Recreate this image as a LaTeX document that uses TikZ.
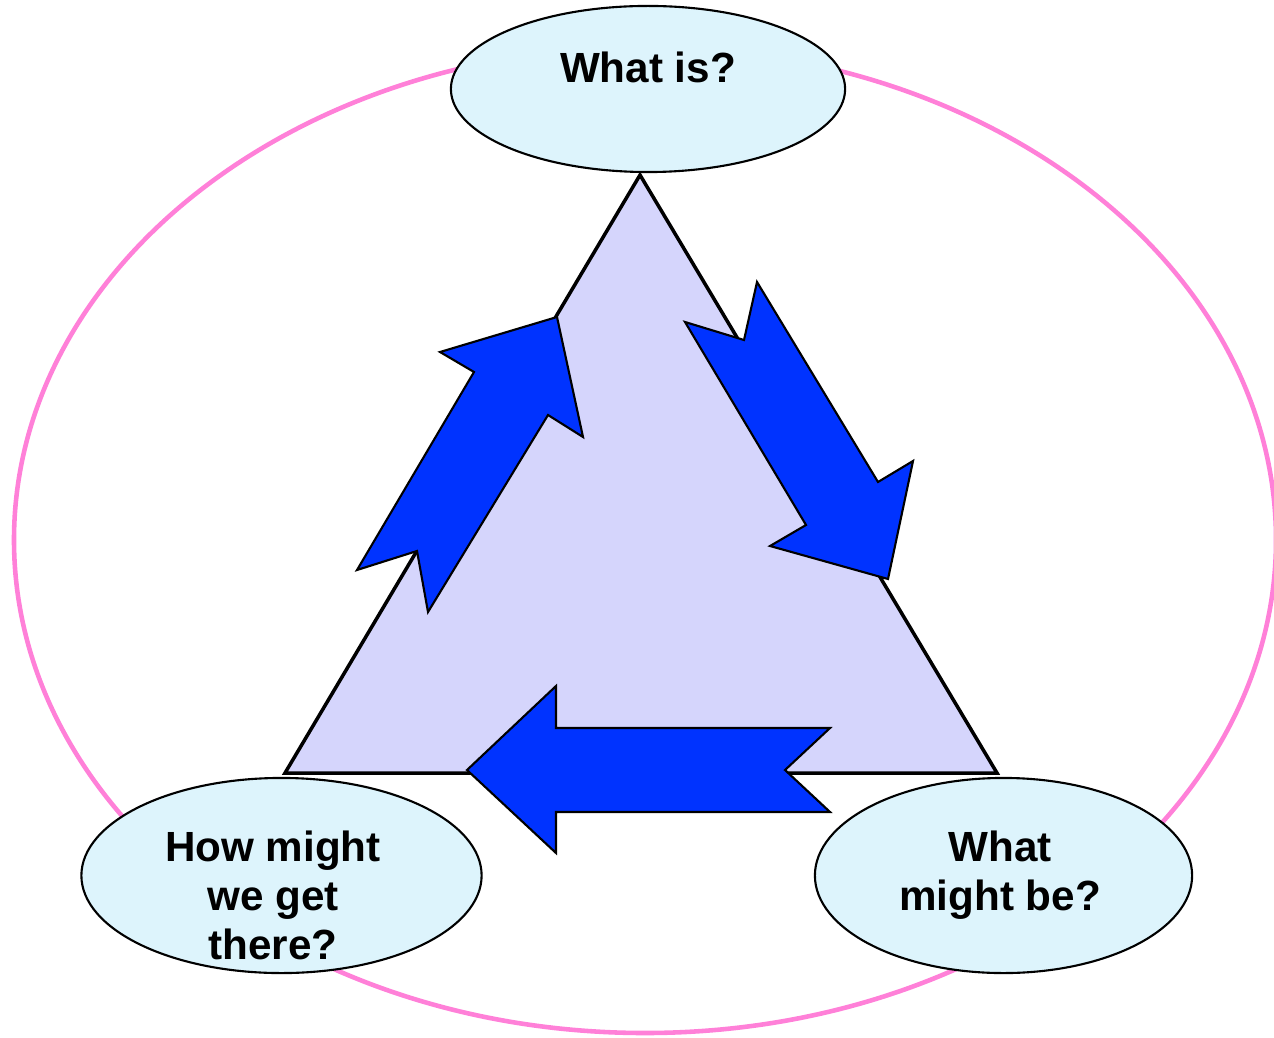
\documentclass[tikz,border=0pt]{standalone}
\usepackage{fontspec}
\setmainfont{Liberation Sans}
\usetikzlibrary{shapes.geometric, positioning}
\definecolor{ringpink}{HTML}{FF80D8}
\definecolor{bubble}{HTML}{DDF4FC}
\definecolor{lavender}{HTML}{D5D5FC}
\definecolor{cycleblue}{HTML}{0033FF}

\begin{document}
\begin{tikzpicture}[x=0.01cm, y=-0.01cm,
		question/.style={ellipse, draw, line width=0.6pt, fill=bubble, inner sep=0pt},
		qtext/.style={inner sep=0pt, align=center, font=\fontsize{12}{14}\selectfont\bfseries},
		turn/.style={draw, line width=0.6pt, fill=cycleblue, line join=miter}]
	\useasboundingbox (0,0) rectangle (1274,1037);
	\draw[ringpink, line width=1.3pt] (645,540) ellipse [x radius=631, y radius=493];
	% triangle
	\coordinate (apex) at (640,175);
	\coordinate (right) at (997,773);
	\coordinate (left) at (285,773);
	\draw[fill=lavender, line width=1pt] (apex) -- (right) -- (left) -- cycle;
	% arrows round the cycle
	\draw[turn] (557,317) -- (583,437) -- (548,415) -- (428,612) -- (417,551)
		-- (357,570) -- (474,372) -- (440,352) -- cycle;
	\draw[turn] (685,322) -- (744,340) -- (757,282) -- (878,482) -- (913,461)
		-- (888,579) -- (770,546) -- (806,525) -- cycle;
	\draw[turn] (467,770) -- (556,686) -- (556,728) -- (830,728) -- (785,770)
		-- (830,812) -- (556,812) -- (556,853) -- cycle;
	% the three questions
	\node[question, minimum width=3.94cm, minimum height=1.66cm] (is) at (648,89) {};
	\node[question, minimum width=4cm, minimum height=1.95cm] (how) at (281.5,875.5) {};
	\node[question, minimum width=3.77cm, minimum height=1.95cm] (be) at (1003.5,875.5) {};
	\node[qtext, anchor=base] (istext) at (648,83) {What is?};
	\node[qtext, anchor=north] (howtext) at (273,830) {How might\\we get\\there?};
	\node[qtext, anchor=north] (betext) at (1000,830) {What\\might be?};
\end{tikzpicture}
\end{document}
